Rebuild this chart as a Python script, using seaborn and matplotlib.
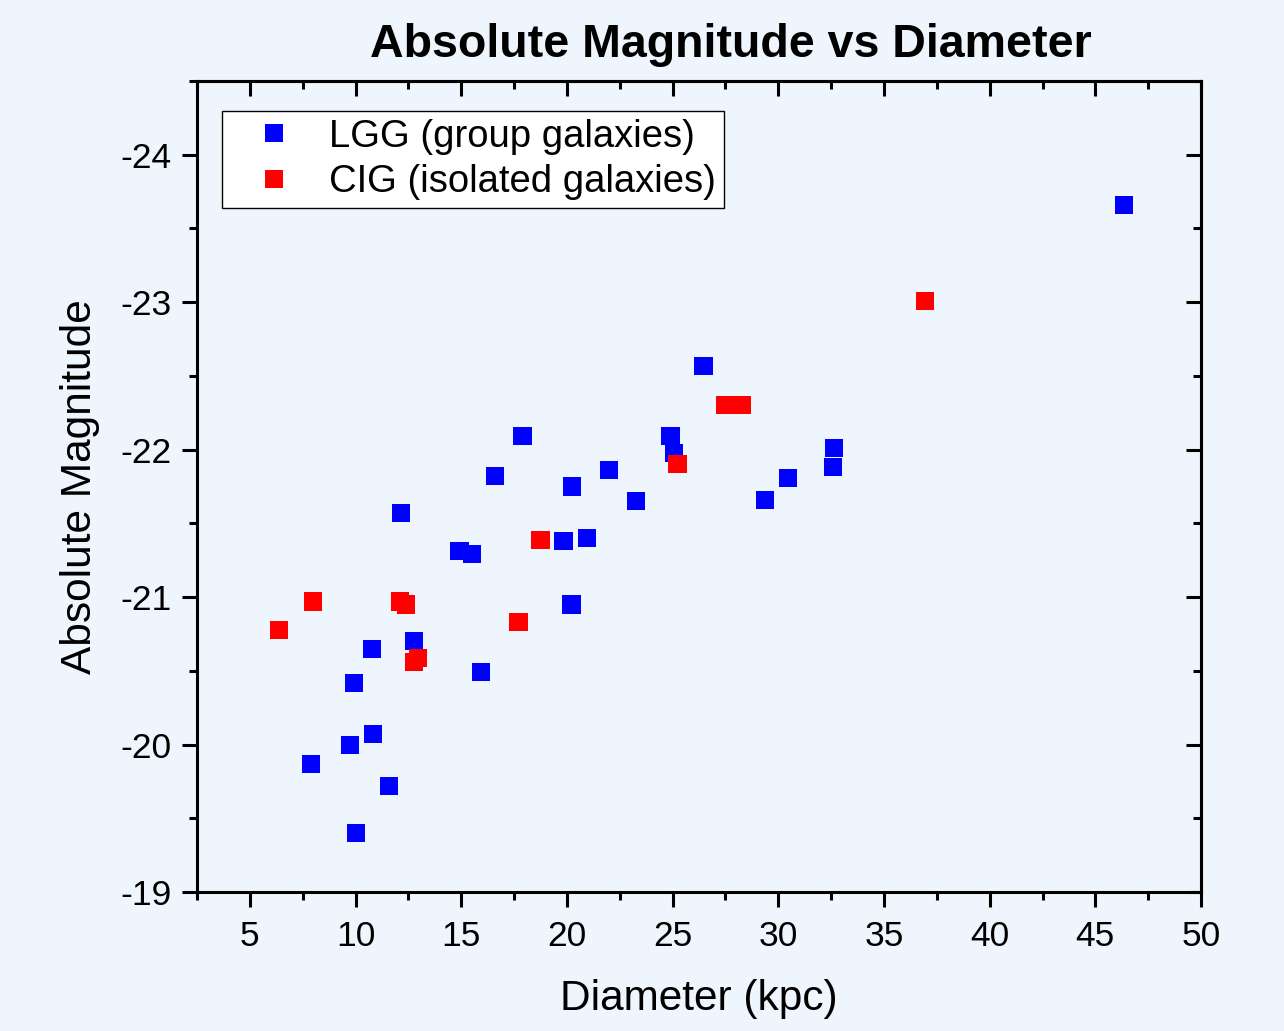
import numpy as np
import pandas as pd
import matplotlib
matplotlib.use('Agg')
import matplotlib.pyplot as plt
from matplotlib.ticker import MultipleLocator
import seaborn as sns

# LGG (group galaxies)
lgg_diam = [46.35, 26.46, 24.9, 25.08, 17.9, 22.01, 16.58, 20.26, 23.29, 32.65,
            32.6, 30.47, 29.39, 12.14, 14.92, 15.49, 19.84, 20.97, 20.22, 12.75,
            10.77, 9.91, 15.92, 9.73, 10.81, 7.88, 11.57, 10.01]
lgg_mag = [-23.66, -22.57, -22.09, -21.98, -22.09, -21.86, -21.82, -21.75, -21.65, -22.01,
           -21.88, -21.81, -21.66, -21.57, -21.31, -21.29, -21.38, -21.40, -20.95, -20.70,
           -20.65, -20.42, -20.49, -20.00, -20.07, -19.87, -19.72, -19.40]

# CIG (isolated galaxies)
cig_diam = [36.95, 27.5, 28.3, 25.23, 18.75, 17.71, 6.37, 7.98, 12.09, 12.37, 12.75, 12.94]
cig_mag = [-23.01, -22.30, -22.30, -21.90, -21.39, -20.83, -20.78, -20.97, -20.97, -20.95,
           -20.56, -20.59]

groups = ['LGG (group galaxies)', 'CIG (isolated galaxies)']
colors = ['#0000FF', '#FF0000']

df = pd.DataFrame({
    'Diameter (kpc)': lgg_diam + cig_diam,
    'Absolute Magnitude': lgg_mag + cig_mag,
    'sample': [groups[0]] * len(lgg_diam) + [groups[1]] * len(cig_diam),
})

bg = '#EEF5FD'
sns.set_style('ticks')
plt.rcParams['font.family'] = ['Liberation Sans', 'DejaVu Sans']
plt.rcParams['axes.unicode_minus'] = False
for k in ['text.color', 'axes.labelcolor', 'xtick.color', 'ytick.color']:
    plt.rcParams[k] = 'black'

fig = plt.figure(figsize=(12.84, 10.31), dpi=100, facecolor=bg)
ax = fig.add_axes([0.1534, 0.1348, 0.782, 0.7866])
ax.set_facecolor(bg)

sns.scatterplot(data=df, x='Diameter (kpc)', y='Absolute Magnitude', hue='sample',
                palette=dict(zip(groups, colors)), marker='s', s=170, linewidth=0,
                ax=ax)

ax.set_xlim(2.5, 50)
ax.set_ylim(-19, -24.5)
ax.xaxis.set_major_locator(MultipleLocator(5))
ax.xaxis.set_minor_locator(MultipleLocator(2.5))
ax.yaxis.set_major_locator(MultipleLocator(1))
ax.yaxis.set_minor_locator(MultipleLocator(0.5))

for sp in ax.spines.values():
    sp.set_visible(True)
    sp.set_linewidth(2.2)
    sp.set_color('black')

ax.tick_params(which='major', direction='out', length=11, width=2.2, labelsize=25.5)
ax.tick_params(axis='x', which='major', pad=9)
ax.tick_params(axis='y', which='major', pad=7)
ax.tick_params(which='minor', direction='out', length=6, width=2.2)

top = ax.secondary_xaxis('top')
top.xaxis.set_major_locator(MultipleLocator(5))
top.xaxis.set_minor_locator(MultipleLocator(2.5))
top.tick_params(which='major', direction='in', length=11, width=2.2, labeltop=False)
top.tick_params(which='minor', direction='in', length=6, width=2.2)
top.spines['top'].set_linewidth(2.2)

right = ax.secondary_yaxis('right')
right.yaxis.set_major_locator(MultipleLocator(1))
right.yaxis.set_minor_locator(MultipleLocator(0.5))
right.tick_params(which='major', direction='in', length=11, width=2.2, labelright=False)
right.tick_params(which='minor', direction='in', length=6, width=2.2)
right.spines['right'].set_linewidth(2.2)

ax.set_xlabel('Diameter (kpc)', fontsize=30.5, labelpad=19)
ax.set_ylabel('Absolute Magnitude', fontsize=30.5, labelpad=15)

fig.text(0.569, 0.956, 'Absolute Magnitude vs Diameter', ha='center', va='center',
         fontsize=33.5, fontweight='bold')

leg = ax.legend(loc='upper left', bbox_to_anchor=(0.025, 0.963), borderaxespad=0,
                fontsize=27.5, frameon=True, fancybox=False, edgecolor='black',
                framealpha=1, markerscale=1.0, handletextpad=0.3, borderpad=0.2,
                labelspacing=0.25, handlelength=2.3)
leg.get_frame().set_linewidth(1.0)
leg.get_frame().set_facecolor('white')

plt.savefig('out.png', dpi=100, facecolor=bg)
plt.close()
